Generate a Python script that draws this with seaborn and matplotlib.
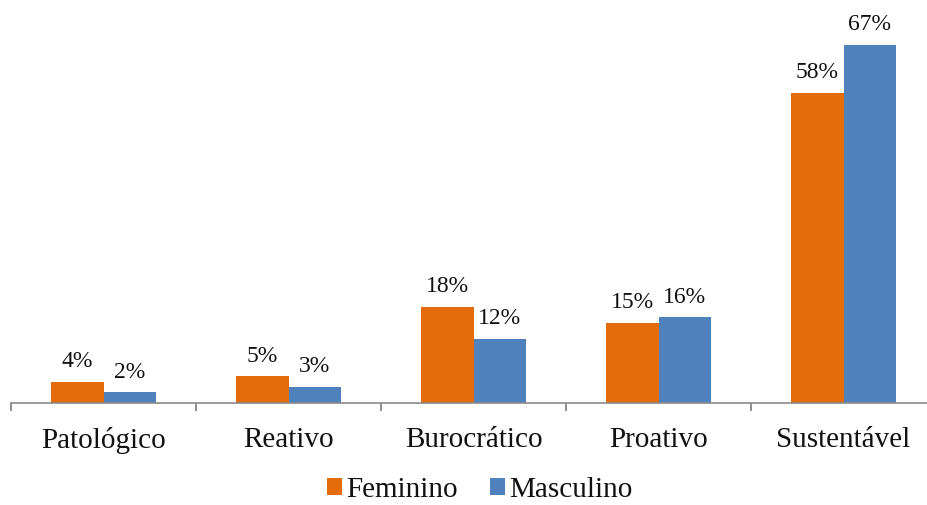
import matplotlib
matplotlib.use("Agg")
import matplotlib.pyplot as plt
import matplotlib.patches as mpatches
import seaborn as sns
import pandas as pd
import numpy as np

categories = ["Patológico", "Reativo", "Burocrático", "Proativo", "Sustentável"]
feminino = [4, 5, 18, 15, 58]
masculino = [2, 3, 12, 16, 67]
series_names = ["Feminino", "Masculino"]
colors = ["#E46C0A", "#4F81BD"]

df = pd.DataFrame({
    "categoria": categories * 2,
    "valor": feminino + masculino,
    "sexo": [series_names[0]] * len(categories) + [series_names[1]] * len(categories),
})

sns.set_theme(style="white")
plt.rcParams["font.family"] = ["Liberation Serif", "DejaVu Serif"]

W, H = 928, 505
fig = plt.figure(figsize=(W / 100, H / 100), dpi=100)
ax = fig.add_axes([11 / W, (H - 403) / H, 925 / W, 403 / H])

sns.barplot(data=df, x="categoria", y="valor", hue="sexo", order=categories,
            hue_order=series_names, palette=colors, width=0.57, saturation=1,
            linewidth=0, ax=ax, legend=False)

for cont, vals in zip(ax.containers, [feminino, masculino]):
    ax.bar_label(cont, labels=[f"{v}%" for v in vals], padding=7,
                 fontsize=17, color="#111111")

ax.set_xlim(-0.5, len(categories) - 0.5)
ax.set_ylim(0, 75.4)
ax.set_xlabel("")
ax.set_ylabel("")
ax.set_yticks([])
for s in ["top", "right", "left"]:
    ax.spines[s].set_visible(False)
ax.spines["bottom"].set_color("#8a8a8a")
ax.spines["bottom"].set_linewidth(1.2)

ax.set_xticks(range(len(categories)))
ax.set_xticklabels(categories, fontsize=21, color="#111111")
ax.tick_params(axis="x", which="major", length=0, pad=17)
ax.set_xticks(np.arange(len(categories) + 1) - 0.5, minor=True)
ax.tick_params(axis="x", which="minor", length=6, width=1.2, color="#7a7a7a",
               direction="out", bottom=True)

handles = [mpatches.Patch(facecolor=c, edgecolor="none") for c in colors]
fig.legend(handles, series_names, loc="center", bbox_to_anchor=(480 / W, 1 - 490 / H),
           ncol=2, frameon=False, fontsize=21, handlelength=0.5, handleheight=0.5,
           handletextpad=0.15, columnspacing=1.1, labelcolor="#111111",
           borderpad=0.1)

fig.savefig("out.png", dpi=100)
